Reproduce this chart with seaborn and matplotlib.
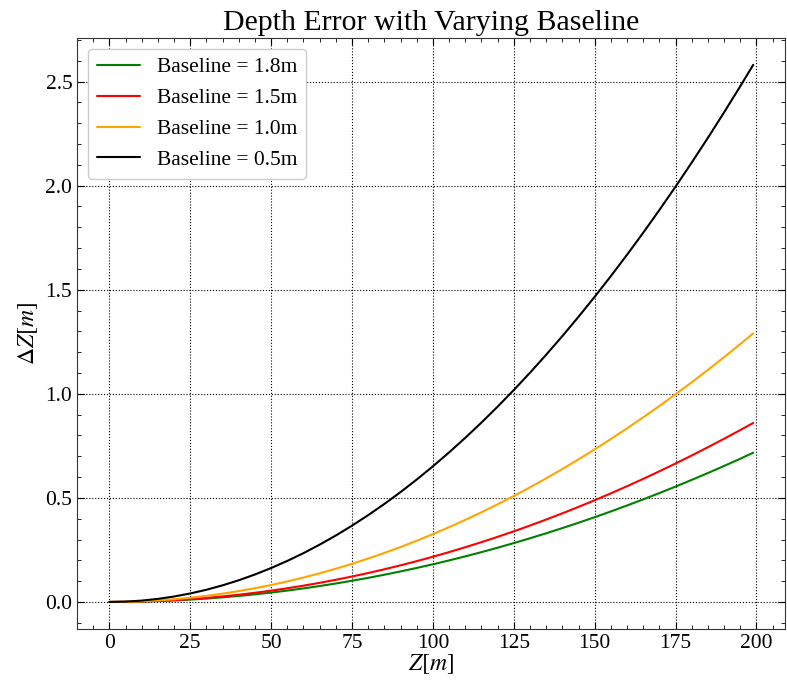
import pandas as pd
import matplotlib
matplotlib.use("Agg")
import matplotlib.pyplot as plt
import seaborn as sns
from matplotlib.ticker import AutoMinorLocator

# Z positions (m) read along the x axis
z = [0, 5, 10, 15, 20, 25, 30, 35, 40, 45, 50, 55, 60, 65, 70, 75, 80, 85, 90, 95, 100,
     105, 110, 115, 120, 125, 130, 135, 140, 145, 150, 155, 160, 165, 170, 175, 180,
     185, 190, 195, 199]

# depth error (m)
err_18 = [0, 0.0005, 0.0018, 0.0041, 0.0072, 0.0113, 0.0163, 0.0222, 0.0290, 0.0366, 0.0452,
          0.0547, 0.0652, 0.0765, 0.0887, 0.1018, 0.1158, 0.1308, 0.1466, 0.1633, 0.1810,
          0.1995, 0.2190, 0.2393, 0.2606, 0.2828, 0.3058, 0.3298, 0.3547, 0.3805, 0.4072,
          0.4348, 0.4633, 0.4927, 0.5230, 0.5542, 0.5864, 0.6194, 0.6533, 0.6881, 0.717]
err_15 = [0, 0.0005, 0.0022, 0.0049, 0.0087, 0.0136, 0.0195, 0.0266, 0.0347, 0.0440, 0.0543,
          0.0657, 0.0782, 0.0918, 0.1064, 0.1222, 0.1390, 0.1569, 0.1759, 0.1960, 0.2172,
          0.2394, 0.2628, 0.2872, 0.3127, 0.3393, 0.3670, 0.3958, 0.4256, 0.4566, 0.4886,
          0.5217, 0.5559, 0.5912, 0.6276, 0.6651, 0.7036, 0.7433, 0.7840, 0.8258, 0.860]
err_10 = [0, 0.0008, 0.0033, 0.0073, 0.0130, 0.0204, 0.0293, 0.0399, 0.0521, 0.0660, 0.0814,
          0.0985, 0.1173, 0.1376, 0.1596, 0.1832, 0.2085, 0.2354, 0.2639, 0.2940, 0.3258,
          0.3591, 0.3942, 0.4308, 0.4691, 0.5090, 0.5505, 0.5937, 0.6385, 0.6849, 0.7329,
          0.7826, 0.8339, 0.8869, 0.9414, 0.9976, 1.0554, 1.1149, 1.1760, 1.2387, 1.290]
err_05 = [0, 0.0016, 0.0065, 0.0147, 0.0261, 0.0407, 0.0586, 0.0798, 0.1042, 0.1319, 0.1629,
          0.1971, 0.2345, 0.2753, 0.3192, 0.3665, 0.4170, 0.4707, 0.5277, 0.5880, 0.6515,
          0.7183, 0.7883, 0.8616, 0.9382, 1.0180, 1.1010, 1.1874, 1.2769, 1.3698, 1.4659,
          1.5652, 1.6678, 1.7737, 1.8828, 1.9952, 2.1109, 2.2298, 2.3519, 2.4773, 2.580]

labels = ["Baseline = 1.8m", "Baseline = 1.5m", "Baseline = 1.0m", "Baseline = 0.5m"]
colors = ["green", "red", "orange", "black"]

frames = []
for lab, vals in zip(labels, [err_18, err_15, err_10, err_05]):
    frames.append(pd.DataFrame({"Z": z, "dZ": vals, "series": lab}))
df = pd.concat(frames, ignore_index=True)

sns.set_style("ticks")
plt.rcParams["font.family"] = ["Liberation Serif", "DejaVu Serif"]
plt.rcParams["mathtext.fontset"] = "stix"
plt.rcParams["xtick.direction"] = "in"
plt.rcParams["ytick.direction"] = "in"
plt.rcParams["text.color"] = "black"
plt.rcParams["axes.labelcolor"] = "black"
plt.rcParams["xtick.color"] = "black"
plt.rcParams["ytick.color"] = "black"

fig, ax = plt.subplots(figsize=(7.87, 6.91), dpi=100)
sns.lineplot(data=df, x="Z", y="dZ", hue="series", hue_order=labels,
             palette=dict(zip(labels, colors)), linewidth=1.5, ax=ax)

ax.set_title("Depth Error with Varying Baseline", fontsize=21.5)
ax.set_xlabel(r"$Z[m]$", fontsize=17, labelpad=0)
ax.set_ylabel(r"$\Delta Z[m]$", fontsize=17)
ax.set_xticks([0, 25, 50, 75, 100, 125, 150, 175, 200])
ax.set_yticks([0.0, 0.5, 1.0, 1.5, 2.0, 2.5])
ax.xaxis.set_minor_locator(AutoMinorLocator(5))
ax.yaxis.set_minor_locator(AutoMinorLocator(5))
ax.tick_params(which="both", top=True, right=True, labelsize=15.5)
ax.tick_params(which="major", length=5)
ax.tick_params(which="minor", length=3)
ax.grid(True, linestyle=":", color="black", linewidth=0.8)
for s in ax.spines.values():
    s.set_color("#333333")

ax.legend(loc="upper left", fontsize=15.5, frameon=True, fancybox=True,
          edgecolor="#cccccc", framealpha=1.0)

fig.subplots_adjust(left=0.098, right=0.998, top=0.945, bottom=0.09)
plt.savefig("out.png", dpi=100)
